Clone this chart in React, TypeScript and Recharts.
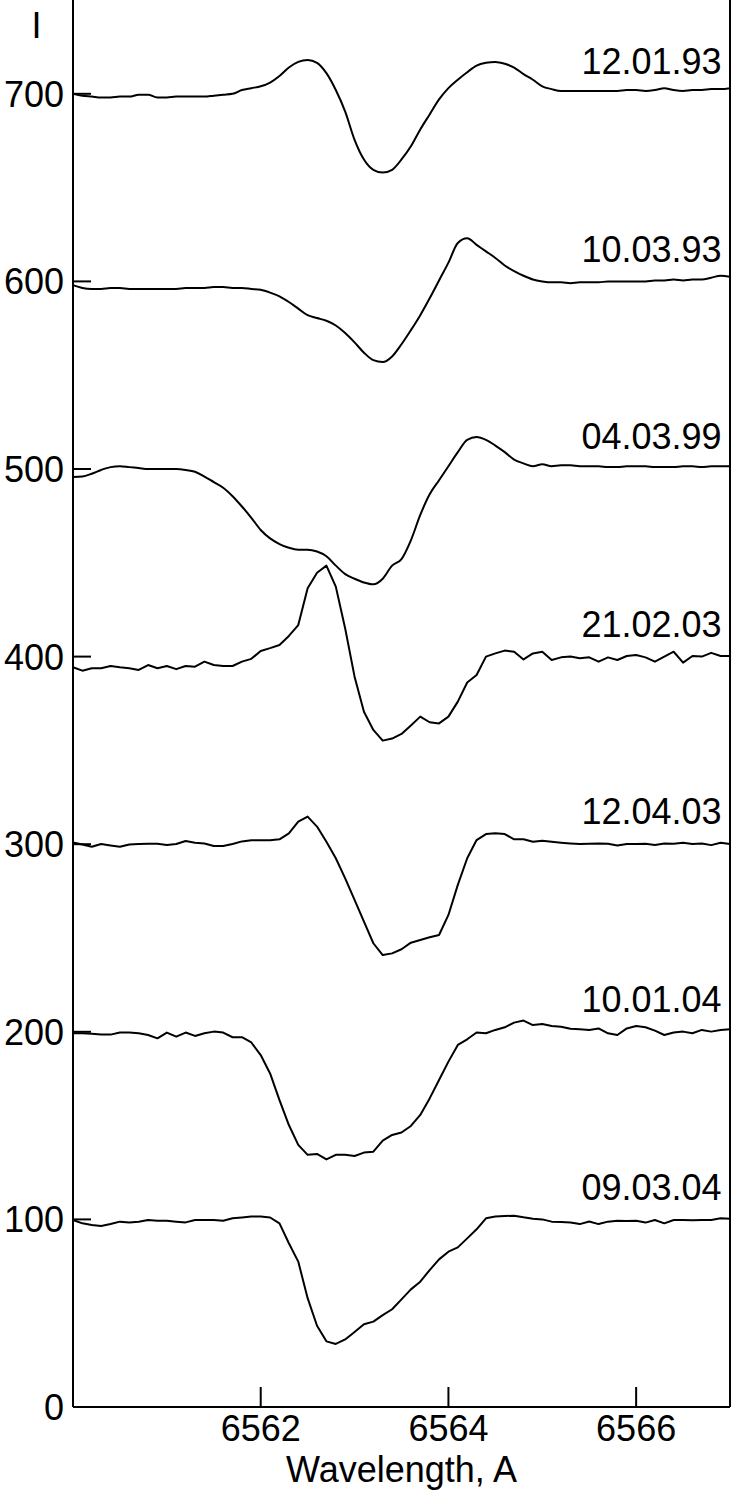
// Halpha line profiles at seven epochs, stacked with +100 offsets
import { LineChart, Line, XAxis, YAxis, ReferenceLine, ReferenceDot } from 'recharts';

const wavelengths = [
  6560.0, 6560.1, 6560.2, 6560.3, 6560.4, 6560.5, 6560.6, 6560.7, 6560.8, 6560.9,
  6561.0, 6561.1, 6561.2, 6561.3, 6561.4, 6561.5, 6561.6, 6561.7, 6561.8, 6561.9,
  6562.0, 6562.1, 6562.2, 6562.3, 6562.4, 6562.5, 6562.6, 6562.7, 6562.8, 6562.9,
  6563.0, 6563.1, 6563.2, 6563.3, 6563.4, 6563.5, 6563.6, 6563.7, 6563.8, 6563.9,
  6564.0, 6564.1, 6564.2, 6564.3, 6564.4, 6564.5, 6564.6, 6564.7, 6564.8, 6564.9,
  6565.0, 6565.1, 6565.2, 6565.3, 6565.4, 6565.5, 6565.6, 6565.7, 6565.8, 6565.9,
  6566.0, 6566.1, 6566.2, 6566.3, 6566.4, 6566.5, 6566.6, 6566.7, 6566.8, 6566.9, 6567.0,
];

const spec120193 = [
  700, 699, 698.5, 698, 698, 698.5, 698.5, 699.5, 699.5, 698,
  698, 698.5, 698.5, 698.5, 698.5, 699, 699.5, 700, 702, 703,
  704, 706, 709.5, 714, 717, 718, 716.5, 711, 702, 690.5,
  675.5, 665, 659.5, 658, 659.5, 665, 672, 681, 689, 697,
  703, 707.5, 711.5, 715, 716.5, 717, 716, 714, 710.5, 707.5,
  704, 702.5, 701.5, 701.5, 701.5, 701.5, 701.5, 701.5, 701.5, 702,
  702, 701.5, 702, 703, 702, 701.5, 702, 702, 702.5, 702.5, 703,
];

const spec100393 = [
  598, 596.5, 596, 596, 596.5, 596.5, 596, 596, 596, 596,
  596, 596, 596.5, 596.5, 596.5, 597, 597, 596.5, 596.5, 596,
  595.5, 594, 592, 589, 585.5, 582, 580.5, 579, 576.5, 572.5,
  567.5, 562, 558, 557, 560, 566.5, 574, 582, 591, 600.5,
  610, 620.5, 623, 619.5, 616, 612.5, 608.5, 605.5, 603, 601,
  600, 599.5, 599.5, 599, 599.5, 599.5, 599.5, 600, 600, 600,
  600, 600, 600.5, 600.5, 601, 600.5, 601, 601, 602, 603, 602.5,
];

const spec040399 = [
  495.7, 496, 497.5, 499.5, 501, 501.5, 501, 500.5, 500, 500,
  500, 500, 499.5, 498.5, 496, 493, 490, 485.5, 480, 474,
  467.5, 463, 460, 458, 457, 457, 456, 453.5, 448.5, 444,
  441.5, 439.5, 438.5, 441.5, 448.5, 452, 462, 475.5, 486.5, 494,
  501.5, 509, 515.5, 517, 515.5, 512.5, 509, 505, 503, 501.5,
  502.5, 501.5, 502, 502, 501.5, 501.5, 501.5, 501, 501, 501.5,
  501.5, 501.5, 501, 501, 501, 501.5, 501.5, 501, 501.5, 501.5, 501.5,
];

const spec210203 = [
  394.3, 392.5, 393.8, 393.8, 395, 394.3, 393.8, 392.9, 395.5, 393.8,
  395, 393.3, 395, 394.6, 397.3, 395.5, 395, 395, 397.3, 398.8,
  403, 404.5, 406.2, 411, 416.8, 436.4, 444.7, 448.5, 437.3, 415,
  389.3, 370.6, 360.9, 355.2, 356.3, 358.8, 363.3, 368, 365, 364.4,
  368, 376, 386.2, 390.2, 400, 401.7, 403.2, 402.6, 398.5, 401.7,
  402.6, 398.2, 399.6, 400, 399.1, 399.6, 397.3, 399.6, 398.2, 400.3,
  400.9, 399.6, 397.3, 400, 402.6, 396.8, 400.3, 400, 402, 400.3, 400.3,
];

const spec120403 = [
  300.9, 299.8, 298.6, 300.1, 299.3, 298.6, 299.8, 300.1, 300.2, 300.2,
  299.6, 300.1, 301.7, 300.8, 300.4, 299, 299, 300.1, 301.5, 302.1,
  302.1, 302.1, 302.6, 305.8, 312, 314.7, 309.4, 301.3, 292.5, 281.8,
  270.3, 258.7, 247.2, 240.9, 241.8, 244, 247.5, 248.9, 250.4, 251.6,
  262.3, 278.3, 292.5, 302.2, 305.4, 305.8, 305.4, 302.6, 302.6, 301.3,
  301.9, 301.3, 300.8, 300.4, 300.1, 300.2, 300.4, 300.2, 299.3, 300.1,
  300.1, 300.2, 299.6, 300.4, 300.2, 300.8, 300.1, 300.4, 299.5, 300.8, 300.1,
];

const spec100104 = [
  199.2, 199.2, 198.9, 198.5, 198.5, 199.6, 199.6, 199.2, 198.3, 196.5,
  199.6, 197.4, 199.6, 197.8, 199.2, 200.1, 199.6, 197.1, 197.1, 194.3,
  187.6, 177.8, 163.6, 150.3, 139.7, 134.4, 134.9, 132, 134.4, 134.4,
  133.8, 135.6, 136.1, 142, 145, 146.3, 149.8, 155.7, 164.5, 174.3,
  184.1, 193, 196, 199.6, 199.2, 201, 202.4, 204.9, 206, 203.6,
  204.2, 203.1, 202.7, 201.6, 201.3, 201, 201.8, 199.2, 198.3, 201.8,
  203.1, 202.4, 200.6, 198.3, 199.6, 200.1, 199.2, 201, 200.1, 201, 201.3,
];

const spec090304 = [
  99.7, 97.9, 97, 96.5, 97.5, 98.8, 98.3, 98.8, 99.7, 99.3,
  99.3, 98.8, 98.4, 99.7, 99.7, 99.7, 99.3, 100.6, 101, 101.5,
  101.5, 101, 97.9, 87.3, 77.5, 58, 43.3, 35, 33.6, 36,
  40, 44.1, 45.5, 49, 52.1, 57.4, 62.7, 66.8, 73, 78.7,
  82.8, 85.1, 89.9, 94.7, 100.6, 101.5, 101.8, 102, 101.1, 100.4,
  100, 98.8, 98.6, 98.4, 97.5, 98.9, 97.5, 98.8, 99.3, 99.1,
  99.3, 98.3, 99.7, 97.9, 99.7, 99.7, 99.5, 99.7, 99.7, 100.6, 100.4,
];

const dates = ['12.01.93', '10.03.93', '04.03.99', '21.02.03', '12.04.03', '10.01.04', '09.03.04'];
const offsets = [700, 600, 500, 400, 300, 200, 100];
const yTicks = [0, 100, 200, 300, 400, 500, 600, 700];
const xTicks = [6562, 6564, 6566];

const spectra = [spec120193, spec100393, spec040399, spec210203, spec120403, spec100104, spec090304];
const smooth = [true, true, true, false, false, false, false];

const rows = wavelengths.map((w, i) => {
  const row: Record<string, number> = { w };
  spectra.forEach((s, k) => {
    row[`s${k}`] = s[i];
  });
  return row;
});

const FONT = 36;

function YTick(props: any) {
  const { x, y, payload } = props;
  return (
    <g>
      <line x1={x} x2={x + 18} y1={y} y2={y} stroke="#000" strokeWidth={2} />
      <text x={x - 9} y={y + 13} textAnchor="end" fontSize={FONT} fill="#000">
        {payload.value}
      </text>
    </g>
  );
}

function XTick(props: any) {
  const { x, y, payload } = props;
  return (
    <g>
      <line x1={x} x2={x} y1={y} y2={y - 20} stroke="#000" strokeWidth={2} />
      <text x={x} y={y + 34} textAnchor="middle" fontSize={FONT} fill="#000">
        {payload.value}
      </text>
    </g>
  );
}

const dateLabel = (text: string) => (p: any) => (
  <text x={p.cx} y={p.cy} textAnchor="end" fontSize={FONT} fill="#000">
    {text}
  </text>
);

export default function App() {
  return (
    <div
      style={{
        position: 'absolute',
        left: 0,
        top: 0,
        background: '#fff',
        fontFamily: '"Liberation Sans", Arial, sans-serif',
      }}
    >
      <LineChart width={735} height={1496} data={rows} margin={{ top: 0, right: 5, bottom: 0, left: 0 }}>
        <XAxis
          dataKey="w"
          type="number"
          domain={[6560, 6567]}
          ticks={xTicks}
          height={89}
          tickSize={0}
          tickMargin={0}
          tickLine={false}
          axisLine={{ stroke: '#000', strokeWidth: 2 }}
          tick={<XTick />}
          label={{ value: 'Wavelength, A', position: 'insideBottom', offset: 14, fontSize: FONT, fill: '#000' }}
        />
        <YAxis
          type="number"
          domain={[0, 750]}
          ticks={yTicks}
          width={73}
          tickSize={0}
          tickMargin={0}
          tickLine={false}
          axisLine={{ stroke: '#000', strokeWidth: 2 }}
          tick={<YTick />}
          label={{ value: 'I', position: 'insideTop', offset: 12, fontSize: FONT, fill: '#000' }}
        />
        <ReferenceLine x={6567} stroke="#000" strokeWidth={2} />
        {spectra.map((_, k) => (
          <Line
            key={k}
            dataKey={`s${k}`}
            type={smooth[k] ? 'monotone' : 'linear'}
            stroke="#000"
            strokeWidth={2}
            strokeLinejoin="round"
            dot={false}
            activeDot={false}
            isAnimationActive={false}
          />
        ))}
        {dates.map((d, k) => (
          <ReferenceDot key={d} x={6566.91} y={offsets[k] + 10.6} r={0} shape={dateLabel(d)} />
        ))}
      </LineChart>
    </div>
  );
}
